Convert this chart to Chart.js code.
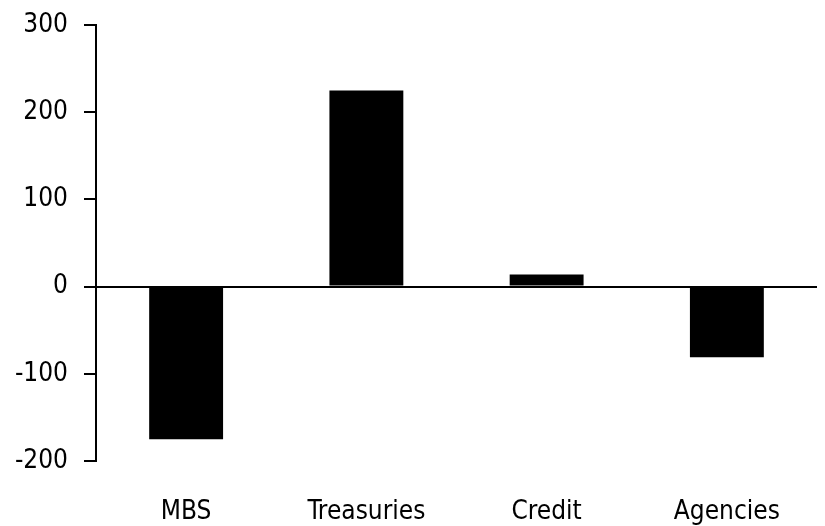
<!DOCTYPE html>
<html>
<head>
<meta charset="utf-8">
<title>Sector flows</title>
<script src="https://cdn.jsdelivr.net/npm/chart.js@4.4.1/dist/chart.umd.min.js"></script>
<style>
    html, body { margin: 0; padding: 0; background: #fff; }
    #chartBox { width: 825px; height: 526px; position: relative; }
</style>
</head>
<body>
<div id="chartBox"><canvas id="sectorChart"></canvas></div>
<script>
// values
const sectors = ['MBS', 'Treasuries', 'Credit', 'Agencies'];
const flows = [-175, 225, 14, -81];
const yTicks = [-200, -100, 0, 100, 200, 300];

const labelFont = {
    family: '"Liberation Sans Narrow", "Arial Narrow", "DejaVu Sans Condensed", "Liberation Sans", sans-serif',
    size: 26
};

function drawSectorChart() {
    const ctx = document.getElementById('sectorChart');
    if (!ctx) {
        console.log('No canvas found');
        return;
    }

    try {
        ctx.chart = new Chart(ctx, {
            type: 'bar',
            data: {
                labels: sectors,
                datasets: [{
                    data: flows,
                    backgroundColor: '#000000',
                    borderWidth: 0,
                    categoryPercentage: 1,
                    barPercentage: 0.41
                }]
            },
            options: {
                responsive: true,
                maintainAspectRatio: false,
                animation: false,
                layout: {
                    padding: { top: 25, right: 8, bottom: 0, left: 0 }
                },
                plugins: {
                    legend: { display: false },
                    tooltip: { enabled: false }
                },
                scales: {
                    x: {
                        grid: { display: false, drawTicks: false },
                        border: { display: false },
                        ticks: {
                            color: '#000',
                            font: labelFont,
                            padding: 36,
                            maxRotation: 0
                        },
                        afterFit: function(scale) { scale.height = 65; }
                    },
                    y: {
                        min: -200,
                        max: 300,
                        afterBuildTicks: function(scale) {
                            scale.ticks = yTicks.map(v => ({ value: v }));
                        },
                        grid: {
                            color: c => (c.tick && c.tick.value === 0) ? '#000' : 'rgba(0,0,0,0)',
                            lineWidth: 2,
                            tickColor: '#000',
                            tickLength: 12,
                            tickWidth: 2
                        },
                        border: { display: true, color: '#000', width: 2 },
                        ticks: {
                            color: '#000',
                            font: labelFont,
                            padding: 16
                        },
                        afterFit: function(scale) {
                            scale.width = 96;
                            scale.paddingTop = 0;
                            scale.paddingBottom = 0;
                        }
                    }
                }
            }
        });
        console.log('Sector chart drawn');
    } catch (error) {
        console.error('Error creating sector chart:', error);
    }
}

document.addEventListener('DOMContentLoaded', drawSectorChart);
</script>
</body>
</html>
